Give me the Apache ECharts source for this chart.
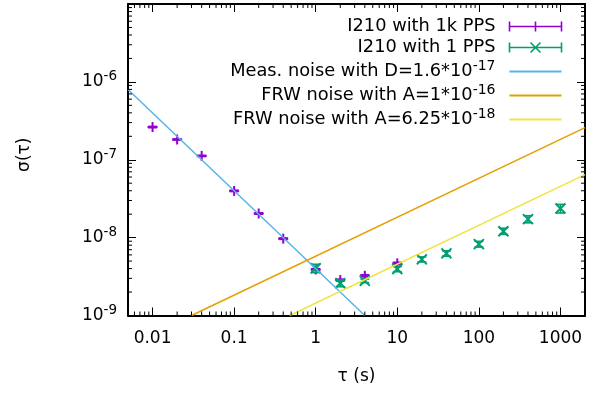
<!DOCTYPE html>
<html><head><meta charset="utf-8">
<script src="https://cdn.jsdelivr.net/npm/echarts@6/dist/echarts.min.js"></script>
<style>html,body{margin:0;padding:0;background:#fff}#c{width:600px;height:395px}</style>
</head><body><div id="c"></div>
<script>
// ---- data ----
const tau1k   = [0.01, 0.02, 0.04, 0.1, 0.2, 0.4, 1, 2, 4, 10];
const sigma1k = [2.63e-7, 1.82e-7, 1.12e-7, 3.98e-8, 2.04e-8, 9.7e-9, 3.9e-9, 2.85e-9, 3.24e-9, 4.67e-9];
const err1k   = [5e-9, 3e-9, 2e-9, 8e-10, 4e-10, 2e-10, 1e-10, 8e-11, 1e-10, 1.5e-10];

const tau1    = [1, 2, 4, 10, 20, 40, 100, 200, 400, 1000];
const sigma1  = [4.05e-9, 2.6e-9, 2.79e-9, 3.95e-9, 5.26e-9, 6.27e-9, 8.26e-9, 1.21e-8, 1.73e-8, 2.37e-8];
const err1    = [5e-10, 2.6e-10, 1.5e-10, 3e-10, 4e-10, 5e-10, 7e-10, 1.1e-9, 1.8e-9, 3e-9];

// model lines (end points)
const measLine  = [[0.005, 8.0e-7], [4, 1.0e-9]];
const frw1Line  = [[0.03, 1.0e-9], [2000, 2.58e-7]];
const frw2Line  = [[0.48, 1.0e-9], [2000, 6.45e-8]];

const seriesNames = ['I210 with 1k PPS', 'I210 with 1 PPS', 'Meas. noise with D=1.6*10^-17', 'FRW noise with A=1*10^-16', 'FRW noise with A=6.25*10^-18'];

const xTickValues = [0.01, 0.1, 1, 10, 100, 1000];
const xTickLabels = ['0.01', '0.1', '1', '10', '100', '1000'];
const yTickValues = [1e-9, 1e-8, 1e-7, 1e-6];
const yTickExps   = ['-9', '-8', '-7', '-6'];
const xRange = [0.005, 2000];
const yRange = [1e-9, 1e-5];
const minorMultiples = [2, 3, 4, 5, 6, 7, 8, 9];
const xDecades = [0.001, 0.01, 0.1, 1, 10, 100, 1000];
const yDecades = [1e-9, 1e-8, 1e-7, 1e-6];

// ---- styling ----
const FONT = 'DejaVu Sans';
const C = { purple: '#9400d3', green: '#009e73', blue: '#56b4e9', orange: '#e69f00', yellow: '#f0e442' };

const xMinor = [];
xDecades.forEach(d => minorMultiples.forEach(m => { const v = d * m; if (v > xRange[0] && v < xRange[1]) xMinor.push([v, yRange[0]]); }));
const yMinor = [];
yDecades.forEach(d => minorMultiples.forEach(m => { const v = d * m; if (v > yRange[0] && v < yRange[1]) yMinor.push([xRange[0], v]); }));

function pointRows(t, s, e) { return t.map((v, i) => [v, s[i], s[i] - e[i], s[i] + e[i]]); }

function errRender(kind, color) {
  return function (params, api) {
    const p = api.coord([api.value(0), api.value(1)]);
    const pl = api.coord([api.value(0), api.value(2)]);
    const ph = api.coord([api.value(0), api.value(3)]);
    const cw = 4.5, m = 5;
    const st = { stroke: color, lineWidth: 1.6 };
    const ch = [
      { type: 'line', shape: { x1: p[0], y1: pl[1], x2: p[0], y2: ph[1] }, style: st },
      { type: 'line', shape: { x1: p[0] - cw, y1: pl[1], x2: p[0] + cw, y2: pl[1] }, style: st },
      { type: 'line', shape: { x1: p[0] - cw, y1: ph[1], x2: p[0] + cw, y2: ph[1] }, style: st }
    ];
    if (kind === 'plus') {
      ch.push({ type: 'line', shape: { x1: p[0] - m, y1: p[1], x2: p[0] + m, y2: p[1] }, style: { stroke: color, lineWidth: 2 } });
      ch.push({ type: 'line', shape: { x1: p[0], y1: p[1] - m, x2: p[0], y2: p[1] + m }, style: { stroke: color, lineWidth: 2 } });
    } else {
      ch.push({ type: 'line', shape: { x1: p[0] - m, y1: p[1] - m, x2: p[0] + m, y2: p[1] + m }, style: { stroke: color, lineWidth: 2 } });
      ch.push({ type: 'line', shape: { x1: p[0] - m, y1: p[1] + m, x2: p[0] + m, y2: p[1] - m }, style: { stroke: color, lineWidth: 2 } });
    }
    return { type: 'group', children: ch };
  };
}

function xMinorRender(params, api) {
  const cs = params.coordSys;
  const x = api.coord([api.value(0), api.value(1)])[0];
  const st = { stroke: '#000', lineWidth: 1 };
  return { type: 'group', children: [
    { type: 'line', shape: { x1: x, y1: cs.y + cs.height, x2: x, y2: cs.y + cs.height - 4 }, style: st },
    { type: 'line', shape: { x1: x, y1: cs.y, x2: x, y2: cs.y + 4 }, style: st }
  ] };
}
function yMinorRender(params, api) {
  const cs = params.coordSys;
  const y = api.coord([api.value(0), api.value(1)])[1];
  const st = { stroke: '#000', lineWidth: 1 };
  return { type: 'group', children: [
    { type: 'line', shape: { x1: cs.x, y1: y, x2: cs.x + 4, y2: y }, style: st },
    { type: 'line', shape: { x1: cs.x + cs.width, y1: y, x2: cs.x + cs.width - 4, y2: y }, style: st }
  ] };
}

function isPow(v, list) { return list.findIndex(t => Math.abs(Math.log10(v / t)) < 1e-6); }

const axisLineStyle = { lineStyle: { color: '#000', width: 2 } };
const axisTickStyle = { inside: true, length: 8, lineStyle: { color: '#000', width: 1 } };

function legendRich(name) {
  const m = name.match(/^(.*)\^(-?\d+)$/);
  if (m) return '{t|' + m[1] + '}{s|' + m[2] + '}{g|}';
  return '{t|' + name + '}{g|}';
}

const lineIcon = 'path://M0,0L0,0M0,5L52,5M52,10L52,10';
const chart = echarts.init(document.getElementById('c'), null, { renderer: 'canvas' });
chart.setOption({
  backgroundColor: '#fff',
  animation: false,
  textStyle: { fontFamily: FONT },
  grid: { left: 128, right: 15, top: 4, bottom: 79.5, containLabel: false },
  xAxis: [
    { type: 'log', logBase: 10, min: xRange[0], max: xRange[1], position: 'bottom',
      axisLine: axisLineStyle, axisTick: axisTickStyle, splitLine: { show: false },
      axisLabel: { margin: 15, color: '#000', fontFamily: FONT, fontSize: 17,
        formatter: v => { const i = isPow(v, xTickValues); return i < 0 ? '' : xTickLabels[i]; } },
      name: 'τ (s)', nameLocation: 'middle', nameGap: 53,
      nameTextStyle: { color: '#000', fontFamily: FONT, fontSize: 17 } },
    { type: 'log', logBase: 10, min: xRange[0], max: xRange[1], position: 'top',
      axisLine: axisLineStyle, axisTick: axisTickStyle, splitLine: { show: false }, axisLabel: { show: false } }
  ],
  yAxis: [
    { type: 'log', logBase: 10, min: yRange[0], max: yRange[1], position: 'left',
      axisLine: axisLineStyle, axisTick: axisTickStyle, splitLine: { show: false },
      axisLabel: { margin: 11, color: '#000',
        formatter: v => { const i = isPow(v, yTickValues); return i < 0 ? '' : '{b|10}{s|' + yTickExps[i] + '}'; },
        rich: {
          b: { fontFamily: FONT, fontSize: 17, lineHeight: 24, color: '#000' },
          s: { fontFamily: FONT, fontSize: 13.5, lineHeight: 10, verticalAlign: 'top', color: '#000' }
        } },
      name: 'σ(τ)', nameLocation: 'middle', nameGap: 95, nameRotate: 90,
      nameTextStyle: { color: '#000', fontFamily: FONT, fontSize: 17, padding: [0, 0, 0, 10] } },
    { type: 'log', logBase: 10, min: yRange[0], max: yRange[1], position: 'right',
      axisLine: axisLineStyle, axisTick: axisTickStyle, splitLine: { show: false }, axisLabel: { show: false } }
  ],
  legend: {
    orient: 'vertical', right: 36, top: 17.5, padding: 0, align: 'right',
    itemWidth: 52, itemHeight: 10, itemGap: 3, selectedMode: false,
    data: [
      { name: seriesNames[0], icon: 'path://M0,0L0,10M0,5L52,5M52,0L52,10M26,0L26,10',
        itemStyle: { color: 'none', borderColor: C.purple, borderWidth: 1.6 } },
      { name: seriesNames[1], icon: 'path://M0,0L0,10M0,5L52,5M52,0L52,10M21,0L31,10M31,0L21,10',
        itemStyle: { color: 'none', borderColor: C.green, borderWidth: 1.6 } },
      { name: seriesNames[2], icon: lineIcon, itemStyle: { color: 'none', borderColor: C.blue, borderWidth: 2 } },
      { name: seriesNames[3], icon: lineIcon, itemStyle: { color: 'none', borderColor: C.orange, borderWidth: 2 } },
      { name: seriesNames[4], icon: lineIcon, itemStyle: { color: 'none', borderColor: C.yellow, borderWidth: 2 } }
    ],
    formatter: legendRich,
    textStyle: {
      rich: {
        t: { fontFamily: FONT, fontSize: 17.8, lineHeight: 24, color: '#000' },
        s: { fontFamily: FONT, fontSize: 14, lineHeight: 10, verticalAlign: 'top', color: '#000' },
        g: { width: 9 }
      }
    }
  },
  series: [
    { name: seriesNames[0], type: 'custom', xAxisIndex: 0, yAxisIndex: 0, renderItem: errRender('plus', C.purple),
      itemStyle: { color: C.purple }, data: pointRows(tau1k, sigma1k, err1k), encode: { x: 0, y: 1 }, z: 3 },
    { name: seriesNames[1], type: 'custom', xAxisIndex: 0, yAxisIndex: 0, renderItem: errRender('cross', C.green),
      itemStyle: { color: C.green }, data: pointRows(tau1, sigma1, err1), encode: { x: 0, y: 1 }, z: 3 },
    { name: seriesNames[2], type: 'line', data: measLine, symbol: 'none', lineStyle: { color: C.blue, width: 1.5 }, itemStyle: { color: C.blue }, z: 4 },
    { name: seriesNames[3], type: 'line', data: frw1Line, symbol: 'none', lineStyle: { color: C.orange, width: 1.5 }, itemStyle: { color: C.orange }, z: 4 },
    { name: seriesNames[4], type: 'line', data: frw2Line, symbol: 'none', lineStyle: { color: C.yellow, width: 1.5 }, itemStyle: { color: C.yellow }, z: 4 },
    { name: 'xminor', type: 'custom', renderItem: xMinorRender, data: xMinor, encode: { x: 0, y: 1 }, silent: true, z: 5 },
    { name: 'yminor', type: 'custom', renderItem: yMinorRender, data: yMinor, encode: { x: 0, y: 1 }, silent: true, z: 5 }
  ]
});
</script>
</body></html>
